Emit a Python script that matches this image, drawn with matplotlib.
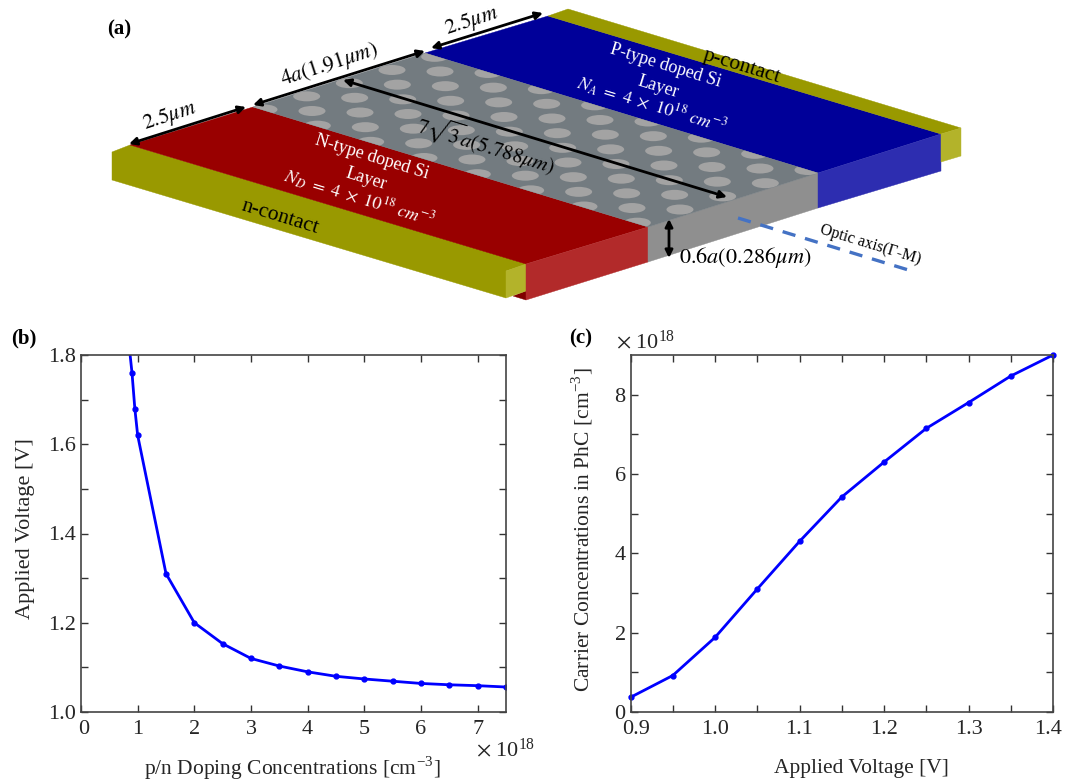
import matplotlib
matplotlib.use("Agg")
import matplotlib.pyplot as plt
from matplotlib.patches import Polygon, Ellipse, FancyArrowPatch
from matplotlib.transforms import ScaledTranslation

plt.rcParams['font.family'] = ['Liberation Serif', 'DejaVu Serif']
plt.rcParams['mathtext.fontset'] = 'stix'

W, H = 1075, 782

# Panel (b)
doping = [0.85, 0.9, 0.95, 1.0, 1.5, 2.0, 2.5, 3.0, 3.5, 4.0, 4.5, 5.0, 5.5, 6.0, 6.5, 7.0, 7.5]
voltage_b = [1.82, 1.76, 1.68, 1.62, 1.31, 1.2, 1.153, 1.12, 1.103, 1.09, 1.08, 1.074, 1.069, 1.064, 1.061, 1.059, 1.056]
# Panel (c)
voltage_c = [0.9, 0.95, 1.0, 1.05, 1.1, 1.15, 1.2, 1.25, 1.3, 1.35, 1.4]
carriers = [0.37, 0.92, 1.88, 3.1, 4.3, 5.42, 6.3, 7.15, 7.8, 8.47, 9.0]

# Panel (a) schematic geometry, in picture pixels
faces = [
    ([(513, 296), (526, 291), (526, 300)], '#800000'),
    ([(112, 152), (130, 145), (527, 264), (506, 271), (506, 298), (112, 180)], '#999900'),
    ([(506, 271), (526, 264), (526, 291), (506, 298)], '#b3b32a'),
    ([(130, 145), (253, 107), (648, 227), (526, 264)], '#990000'),
    ([(526, 264), (648, 227), (648, 262), (526, 300)], '#b22a2a'),
    ([(648, 227), (818, 173), (818, 208), (648, 262)], '#8f8f8f'),
    ([(425, 53), (548, 16), (941, 134), (818, 173)], '#000099'),
    ([(818, 173), (941, 134), (941, 171), (818, 208)], '#2d2db0'),
    ([(548, 16), (568, 9), (961, 128), (941, 134)], '#999900'),
    ([(941, 134), (961, 128), (961, 156), (941, 162)], '#b3b32a'),
]
phc_top = [(253, 107), (425, 53), (818, 173), (648, 227)]
hole_origin = (600.0, 120.0)
hole_a1 = (48.0, 1.5)
hole_a2 = (5.33, 14.67)
arrows = [
    ((129, 144), (246, 107)),
    ((253, 105), (425, 51)),
    ((431, 48), (543, 13)),
    ((343, 80), (727, 197)),
    ((669, 219), (669, 258)),
]
labels = [
    (170, 116, r'$2.5\mu m$', 15.5, 18, 'k'),
    (329, 65, r'$4a(1.91\mu m)$', 15.5, 18, 'k'),
    (472, 21, r'$2.5\mu m$', 15.5, 18, 'k'),
    (486, 145, r'$7\sqrt{3}a(5.788\mu m)$', 15, -17, 'k'),
    (745, 258, r'$0.6a(0.286\mu m)$', 16, 0, 'k'),
    (372, 157, 'N-type doped Si', 13, -17, 'w'),
    (366, 179, 'Layer', 13, -17, 'w'),
    (359, 198, r'$N_D\ =\ 4\ \times\ 10^{18}\ cm^{-3}$', 13, -17, 'w'),
    (280, 217, 'n-contact', 15.5, -17, 'k'),
    (665, 66, 'P-type doped Si', 13, -17, 'w'),
    (658, 87, 'Layer', 13, -17, 'w'),
    (652, 105, r'$N_A\ =\ 4\ \times\ 10^{18}\ cm^{-3}$', 13, -17, 'w'),
    (742, 67, 'p-contact', 15.5, -17, 'k'),
    (870, 245, 'Optic axis(Γ-M)', 11.5, -17, 'k'),
]

fig = plt.figure(figsize=(W / 100, H / 100), dpi=100)

# Schematic layer covering the picture, one unit per pixel
sk = fig.add_axes([0, 0, 1, 1])
sk.set_xlim(0, W)
sk.set_ylim(H, 0)
sk.axis('off')

for pts, col in faces:
    sk.add_patch(Polygon(pts, closed=True, fc=col, ec=col, lw=0.3))
top = Polygon(phc_top, closed=True, fc='#737b80', ec='#737b80', lw=0.3)
sk.add_patch(top)
for i in range(-14, 12):
    for j in range(-12, 12):
        cx = hole_origin[0] + i * hole_a1[0] + j * hole_a2[0]
        cy = hole_origin[1] + i * hole_a1[1] + j * hole_a2[1]
        if 240 < cx < 830 and 40 < cy < 240:
            e = Ellipse((cx, cy), 27, 10, fc='#a3a3a3', ec='none')
            sk.add_patch(e)
            e.set_clip_path(top)

for a, b in arrows:
    sk.add_patch(FancyArrowPatch(a, b, arrowstyle='<|-|>', mutation_scale=11,
                                 lw=2, color='k', shrinkA=0, shrinkB=0))
sk.plot([738, 915], [218, 272], color='#4472c4', lw=2.4, dashes=(4, 3))

for x, y, s, size, rot, col in labels:
    sk.text(x, y, s, fontsize=size, rotation=rot, color=col, ha='center', va='center',
            rotation_mode='anchor')

sk.text(119, 29, '(a)', fontsize=15, fontweight='bold', ha='center', va='center')
sk.text(24, 338, '(b)', fontsize=15, fontweight='bold', ha='center', va='center')
sk.text(581, 338, '(c)', fontsize=15, fontweight='bold', ha='center', va='center')
sk.text(476, 750, r'$\times\ \mathregular{10^{18}}$', fontsize=16, ha='left', va='center', color='#262626')
sk.text(616, 342, r'$\times\ \mathregular{10^{18}}$', fontsize=16, ha='left', va='center', color='#262626')


def panel(left, right, top_px, bottom_px):
    ax = fig.add_axes([left / W, 1 - bottom_px / H, (right - left) / W, (bottom_px - top_px) / H])
    ax.tick_params(which='both', direction='in', top=True, right=True, width=1, length=5,
                   color='#333333', labelsize=16, labelcolor='#262626')
    ax.tick_params(axis='x', which='major', pad=6)
    for sp in ax.spines.values():
        sp.set_color('#444444')
        sp.set_linewidth(1.2)
    return ax


def shift(label, px):
    label.set_transform(label.get_transform() + ScaledTranslation(px / 100, 0, fig.dpi_scale_trans))


# Panel (b)
ax = panel(81, 506, 355, 712)
ax.plot(doping, voltage_b, color='#0000ff', lw=2, marker='o', ms=3.5)
ax.set_xlim(0, 7.5)
ax.set_ylim(1.0, 1.8)
ax.set_xticks([0, 1, 2, 3, 4, 5, 6, 7])
ax.set_yticks([1.0, 1.2, 1.4, 1.6, 1.8])
ax.set_yticks([1.1, 1.3, 1.5, 1.7], minor=True)
ax.set_yticklabels(['1.0', '1.2', '1.4', '1.6', '1.8'])
shift(ax.get_xticklabels()[0], 3)
ax.set_xlabel('p/n Doping Concentrations [cm$^{\\mathregular{-3}}$]', fontsize=15.5, color='#262626', va='center')
ax.xaxis.set_label_coords(0.496, -0.157)
ax.set_ylabel('Applied Voltage [V]', fontsize=16, color='#262626', va='center')
ax.yaxis.set_label_coords(-0.13, 0.515)

# Panel (c)
ax = panel(630.5, 1053, 355, 712)
ax.plot(voltage_c, carriers, color='#0000ff', lw=2, marker='o', ms=3.5, clip_on=False)
ax.set_xlim(0.9, 1.4)
ax.set_ylim(0, 9)
ax.set_xticks([0.9, 1.0, 1.1, 1.2, 1.3, 1.4])
ax.set_xticks([0.95, 1.05, 1.15, 1.25, 1.35], minor=True)
ax.set_yticks([0, 2, 4, 6, 8])
ax.set_yticks([1, 3, 5, 7], minor=True)
ax.set_xticklabels(['0.9', '1.0', '1.1', '1.2', '1.3', '1.4'])
shift(ax.get_xticklabels()[0], 6)
shift(ax.get_xticklabels()[-1], -5)
ax.set_xlabel('Applied Voltage [V]', fontsize=15.5, color='#262626', va='center')
ax.xaxis.set_label_coords(0.546, -0.157)
ax.set_ylabel('Carrier Concentrations in PhC [cm$^{\\mathregular{-3}}$]', fontsize=15.5, color='#262626', va='center')
ax.yaxis.set_label_coords(-0.114, 0.51)

fig.savefig('out.png', dpi=100)
